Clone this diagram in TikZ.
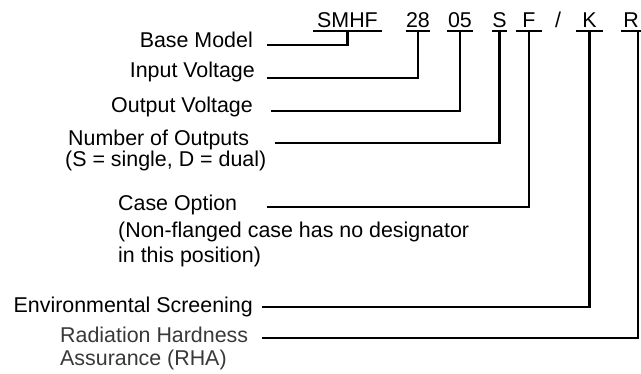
\documentclass[tikz,border=0pt]{standalone}
\usepackage{fontspec}
\setmainfont{Liberation Sans}
\usepackage{tikz}
\usepackage{xcolor}

\begin{document}
\begin{tikzpicture}[x=1pt,y=-1pt,
		every node/.style={font=\fontsize{21.4pt}{25pt}\selectfont,inner sep=0pt},
		code/.style={anchor=base,text depth=0pt,inner ysep=4pt,inner xsep=0pt},
		lbl/.style={anchor=base east},
		lblw/.style={anchor=base west},
		grey/.style={text=black!78},
		leader/.style={line width=2.4pt}]
		\useasboundingbox (0,0) rectangle (641,373);
		\node[code,minimum width=69pt] (smhf) at (347.5,27) {SMHF};
		\node[code,minimum width=24pt] (v28) at (418,27) {28};
		\node[code,minimum width=26pt] (v05) at (460,27) {05};
		\node[code,minimum width=13pt] (s) at (499.5,27) {S};
		\node[code,minimum width=26pt] (f) at (529,27) {F};
		\node[code] (slash) at (558,27) {/};
		\node[code,minimum width=27pt] (k) at (589.5,27) {K};
		\node[code,minimum width=20pt] (r) at (631,27) {R};
		\foreach \n in {smhf,v28,v05,s,f,k,r}
			\draw[line width=2pt] (\n.south west) -- (\n.south east);
		\node[lbl] (base) at (253,47) {Base Model};
		\node[lbl] (input) at (255,77) {Input Voltage};
		\node[lbl] (output) at (253,112) {Output Voltage};
		\node[lblw,align=left] (outputs) at (65,166) {\hspace*{3pt}Number of Outputs\\[-4pt](S = single, D = dual)};
		\node[lblw] (case) at (118,210) {Case Option};
		\node[lblw] (case2) at (118,237) {(Non-flanged case has no designator};
		\node[lblw] (case3) at (118,262) {in this position)};
		\node[lbl] (screen) at (253,312) {Environmental Screening};
		\node[lblw,grey] (rha) at (60,342) {Radiation Hardness};
		\node[lblw,grey] (rha2) at (60,365) {Assurance (RHA)};
		\coordinate (tap-base) at (267,45);
		\coordinate (tap-input) at (267,78);
		\coordinate (tap-output) at (271,111);
		\coordinate (tap-outputs) at (275,143);
		\coordinate (tap-case) at (267,207);
		\coordinate (tap-screen) at (262,307);
		\coordinate (tap-rha) at (262,338);
		\draw[leader] (tap-base) -| (smhf.south);
		\draw[leader] (tap-input) -| (v28.south);
		\draw[leader] (tap-output) -| (v05.south);
		\draw[leader] (tap-outputs) -| (s.south);
		\draw[leader] (tap-case) -| (f.south);
		\draw[leader] (tap-screen) -| (k.south);
		\draw[leader] (tap-rha) -| ([xshift=7pt]r.south);
	\end{tikzpicture}
\end{document}
